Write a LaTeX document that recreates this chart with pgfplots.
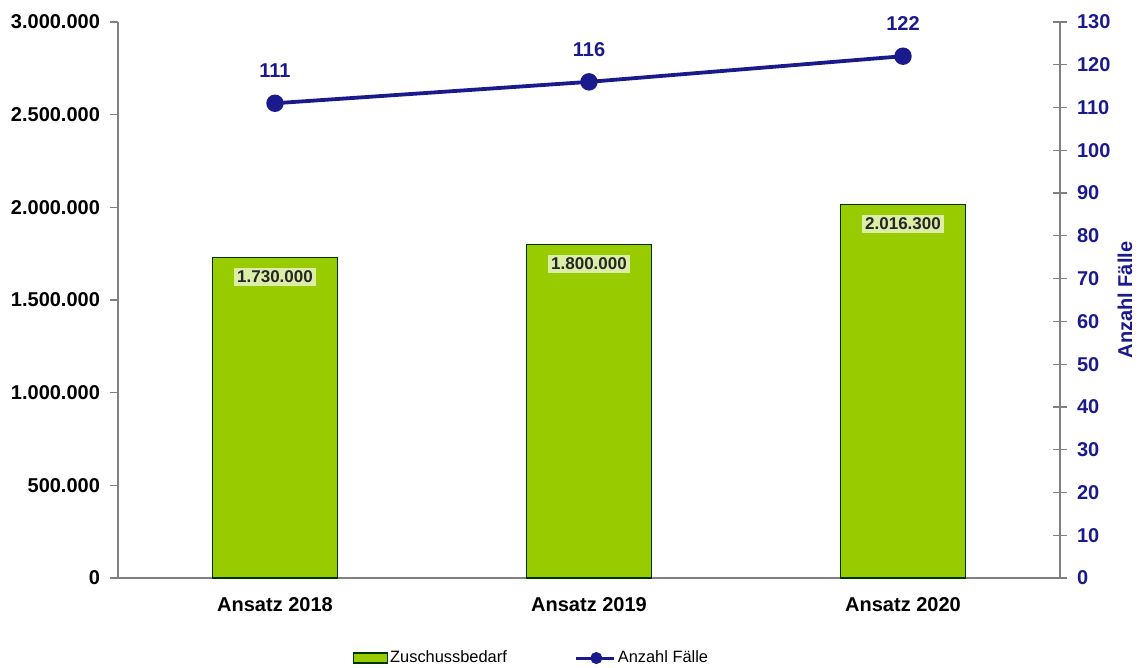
\documentclass[border=0pt]{standalone}
\usepackage{fontspec}
\setmainfont{Liberation Sans}
\usepackage{pgfplots}
\pgfplotsset{compat=1.18}
\definecolor{barg}{HTML}{99CC00}
\definecolor{navy}{HTML}{1A1A8C}
\definecolor{axg}{HTML}{808080}
\begin{document}
\begin{tikzpicture}
\begin{axis}[
  name=ax,
  scale only axis, width=471pt, height=278pt,
  xmin=-0.5, xmax=2.5, ymin=0, ymax=3000000,
  axis y line*=left, axis x line*=bottom,
  axis line style={axg, line width=0.6pt},
  xtick={0,1,2}, xticklabels={Ansatz 2018,Ansatz 2019,Ansatz 2020},
  major x tick style={draw=none},
  extra x ticks={0.5,1.5}, extra x tick labels={},
  extra x tick style={major tick length=3pt, tick style={axg, line width=0.6pt}, tick align=outside},
  x tick label style={font=\bfseries\fontsize{10}{11}\selectfont, yshift=-2pt},
  ytick={0,500000,1000000,1500000,2000000,2500000,3000000},
  scaled y ticks=false,
  y tick label style={font=\bfseries\fontsize{10}{11}\selectfont, xshift=-1.5pt, /pgf/number format/fixed, /pgf/number format/precision=0, /pgf/number format/1000 sep={.}, /pgf/number format/assume math mode=true},
  major y tick style={axg, line width=0.6pt}, tick align=outside, major tick length=4pt,
  ybar, bar width=0.4,
  clip=false,
  nodes near coords={\pgfplotspointmeta},
  point meta=explicit symbolic,
  every node near coord/.append style={anchor=north, yshift=-5pt, font=\bfseries\fontsize{8.5}{9}\selectfont, fill=white!65!barg, inner sep=1.5pt, text=black!85},
]
\addplot[fill=barg, draw=black!80!green, line width=0.6pt] coordinates {(0,1730000) [1.730.000] (1,1800000) [1.800.000] (2,2016300) [2.016.300]};
\end{axis}
\begin{axis}[
  scale only axis, width=471pt, height=278pt,
  xmin=-0.5, xmax=2.5, ymin=0, ymax=130,
  axis y line*=right, axis x line=none,
  axis line style={axg, line width=0.6pt},
  ytick={0,10,...,130},
  y tick label style={font=\bfseries\fontsize{10}{11}\selectfont, text=navy, xshift=1.5pt, /pgf/number format/assume math mode=true},
  major y tick style={axg, line width=0.6pt}, tick align=center, major tick length=7pt,
  ylabel={Anzahl Fälle}, ylabel style={font=\bfseries\fontsize{10}{11}\selectfont, text=navy, at={(axis description cs:1.069,0.5)}, anchor=center},
  clip=false,
  legend style={at={(0.439,-0.144)}, anchor=center, draw=none, fill=none, legend columns=2, font=\fontsize{8.2}{9}\selectfont, /tikz/every even column/.append style={column sep=33pt}, legend cell align=left, inner sep=0pt, nodes={inner sep=1pt}},
  point meta=explicit symbolic,
  nodes near coords={\pgfplotspointmeta}, every node near coord/.append style={anchor=south, yshift=8.5pt, font=\bfseries\fontsize{10}{11}\selectfont, text=navy},
]
\addlegendimage{area legend, fill=barg, draw=black!80!green, line width=0.6pt, legend image code/.code={\draw[fill=barg, draw=black!80!green, line width=0.6pt] (0pt,-2.5pt) rectangle (17pt,2.5pt);}}
\addlegendentry{Zuschussbedarf}
\addplot[navy, line width=1.9pt, mark=*, mark size=3.4pt, mark options={fill=navy}, legend image code/.code={\draw[navy, line width=1.5pt] (0pt,0pt) -- (19pt,0pt); \fill[navy] (10pt,0pt) circle (2pt);}] coordinates {(0,111) [111] (1,116) [116] (2,122) [122]};
\addlegendentry{Anzahl Fälle}
\end{axis}
\pgfresetboundingbox
\path ([xshift=-59pt,yshift=-45pt]ax.south west) rectangle ([xshift=40.5pt,yshift=11pt]ax.north east);
\end{tikzpicture}
\end{document}
